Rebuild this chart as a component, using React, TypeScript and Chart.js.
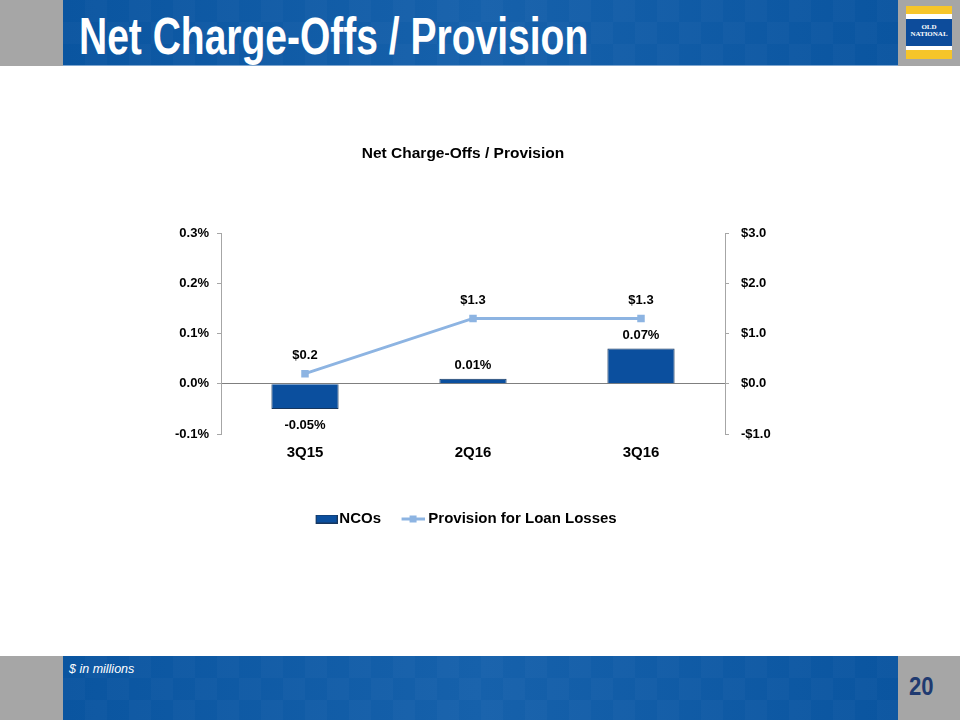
import React, { useEffect, useRef } from 'react';
import { Chart, registerables } from 'chart.js';

Chart.register(...registerables);

const categories = ['3Q15', '2Q16', '3Q16'];
const ncoValues = [-0.05, 0.01, 0.07];
const provisionValues = [0.2, 1.3, 1.3];
const seriesNames = ['NCOs', 'Provision for Loan Losses'];
const leftAxisRange = [-0.1, 0.3];
const rightAxisRange = [-1, 3];
const chartTitle = 'Net Charge-Offs / Provision';
const pageTitle = 'Net Charge-Offs / Provision';
const footnote = '$ in millions';
const pageNumber = '20';

const FONT = '"Liberation Sans", Arial, sans-serif';
const BAR_COLOR = '#0B4F9E';
const BAR_BORDER = '#17365D';
const LINE_COLOR = '#8DB4E2';

const fmtPct = (v: number) => v.toFixed(2) + '%';
const fmtMoney = (v: number) => (v < 0 ? '-$' : '$') + Math.abs(v).toFixed(1);

function makeBarIcon() {
  const c = document.createElement('canvas');
  c.width = 34;
  c.height = 9;
  const g = c.getContext('2d')!;
  g.fillStyle = BAR_COLOR;
  g.fillRect(12, 0, 22, 9);
  g.strokeStyle = BAR_BORDER;
  g.lineWidth = 1;
  g.strokeRect(12.5, 0.5, 21, 8);
  return c;
}

function makeLineIcon() {
  const c = document.createElement('canvas');
  c.width = 30;
  c.height = 9;
  const g = c.getContext('2d')!;
  g.strokeStyle = LINE_COLOR;
  g.lineWidth = 3;
  g.beginPath();
  g.moveTo(7, 4.5);
  g.lineTo(30, 4.5);
  g.stroke();
  g.fillStyle = LINE_COLOR;
  g.fillRect(15, 1, 7, 7);
  return c;
}

const dataLabelPlugin = {
  id: 'dataLabels',
  afterDatasetsDraw(chart: any) {
    const ctx = chart.ctx;
    ctx.save();
    ctx.font = `bold 13px ${FONT}`;
    ctx.fillStyle = '#000000';
    ctx.textAlign = 'center';
    ctx.textBaseline = 'middle';
    const barMeta = chart.getDatasetMeta(0);
    barMeta.data.forEach((el: any, i: number) => {
      const v = ncoValues[i];
      const y = v < 0 ? el.y + 17 : el.y - 13;
      ctx.fillText(fmtPct(v), el.x, y);
    });
    const lineMeta = chart.getDatasetMeta(1);
    lineMeta.data.forEach((el: any, i: number) => {
      ctx.fillText(fmtMoney(provisionValues[i]), el.x, el.y - 18);
    });
    ctx.restore();
  },
};

function ChartCanvas() {
  const ref = useRef<HTMLCanvasElement | null>(null);
  useEffect(() => {
    if (!ref.current) return;
    const barIcon = makeBarIcon();
    const lineIcon = makeLineIcon();
    const chart = new Chart(ref.current, {
      type: 'bar',
      data: {
        labels: categories,
        datasets: [
          {
            type: 'bar',
            label: seriesNames[0],
            data: ncoValues,
            backgroundColor: BAR_COLOR,
            borderColor: BAR_BORDER,
            borderWidth: 1,
            barPercentage: 0.4,
            categoryPercentage: 1,
            yAxisID: 'y',
            order: 2,
          } as any,
          {
            type: 'line',
            label: seriesNames[1],
            data: provisionValues,
            borderColor: LINE_COLOR,
            backgroundColor: LINE_COLOR,
            borderWidth: 3,
            pointStyle: 'rect',
            pointRadius: 5.3,
            pointBorderWidth: 0,
            pointBackgroundColor: LINE_COLOR,
            yAxisID: 'y1',
            order: 1,
          } as any,
        ],
      },
      options: {
        responsive: false,
        animation: false,
        layout: { padding: { left: 150, right: 184, top: 0, bottom: 118.5 } },
        plugins: {
          title: {
            display: true,
            text: chartTitle,
            color: '#000000',
            font: { family: FONT, size: 15.5, weight: 'bold', lineHeight: 1.2 },
            padding: { top: 79.2, bottom: 70.2 },
          },
          legend: {
            display: true,
            position: 'bottom',
            labels: {
              usePointStyle: true,
              pointStyleWidth: 22.5,
              padding: 17.3,
              color: '#000000',
              font: { family: FONT, size: 15, weight: 'bold' },
              generateLabels: () => [
                { text: seriesNames[0], pointStyle: barIcon, fillStyle: BAR_COLOR, strokeStyle: BAR_BORDER, lineWidth: 0, hidden: false, datasetIndex: 0 },
                { text: seriesNames[1], pointStyle: lineIcon, fillStyle: LINE_COLOR, strokeStyle: LINE_COLOR, lineWidth: 0, hidden: false, datasetIndex: 1 },
              ] as any,
            },
          },
          tooltip: { enabled: false },
        },
        scales: {
          x: {
            grid: { display: false, drawTicks: false },
            border: { display: false },
            ticks: {
              color: '#000000',
              padding: 10,
              font: { family: FONT, size: 15, weight: 'bold' },
            },
            afterFit: (s: any) => {
              s.height = 60.2;
            },
          },
          y: {
            position: 'left',
            min: leftAxisRange[0],
            max: leftAxisRange[1],
            grid: {
              drawOnChartArea: true,
              drawTicks: true,
              tickLength: 4,
              tickColor: '#A6A6A6',
              color: (c: any) => (c.tick && Math.abs(c.tick.value) < 1e-9 ? '#7F7F7F' : 'rgba(0,0,0,0)'),
              lineWidth: 1,
            },
            border: { display: true, color: '#A6A6A6', width: 1 },
            ticks: {
              stepSize: 0.1,
              padding: 8,
              color: '#000000',
              font: { family: FONT, size: 13, weight: 'bold' },
              callback: (v: any) => Number(v).toFixed(1) + '%',
            },
            afterFit: (s: any) => {
              s.width = 71;
            },
          },
          y1: {
            position: 'right',
            min: rightAxisRange[0],
            max: rightAxisRange[1],
            grid: { drawOnChartArea: false, drawTicks: true, tickLength: 4, tickColor: '#A6A6A6' },
            border: { display: true, color: '#A6A6A6', width: 1 },
            ticks: {
              stepSize: 1,
              padding: 12,
              color: '#000000',
              font: { family: FONT, size: 13, weight: 'bold' },
              callback: (v: any) => fmtMoney(Number(v)),
            },
            afterFit: (s: any) => {
              s.width = 51;
            },
          },
        },
      } as any,
      plugins: [dataLabelPlugin],
    });
    return () => chart.destroy();
  }, []);
  return (
    <canvas
      ref={ref}
      width={960}
      height={590}
      style={{ position: 'absolute', left: 0, top: 65, width: 960, height: 590, display: 'block' }}
    />
  );
}

const blueBand =
  'repeating-conic-gradient(rgba(255,255,255,0.02) 0 25%, rgba(0,0,0,0) 0 50%) 0 0 / 44px 44px, linear-gradient(90deg, #0A55A0 0%, #1661AB 50%, #0A55A0 100%)';

export default function App() {
  useEffect(() => {
    document.body.style.margin = '0';
  }, []);
  return (
    <div
      style={{
        position: 'absolute',
        left: 0,
        top: 0,
        width: 960,
        height: 720,
        overflow: 'hidden',
        background: '#FFFFFF',
        fontFamily: FONT,
      }}
    >
      {/* header */}
      <div style={{ position: 'absolute', left: 0, top: 0, width: 960, height: 66, background: '#A6A6A6' }} />
      <div style={{ position: 'absolute', left: 63, top: 0, width: 835, height: 65, background: blueBand }} />
      <div style={{ position: 'absolute', left: 63, top: 65, width: 835, height: 1, background: '#7FA6CF' }} />
      <div
        style={{
          position: 'absolute',
          left: 79,
          top: 10,
          fontSize: 52,
          lineHeight: '52px',
          fontWeight: 'bold',
          color: '#FFFFFF',
          whiteSpace: 'nowrap',
          transform: 'scaleX(0.75)',
          transformOrigin: 'left top',
        }}
      >
        {pageTitle}
      </div>
      {/* logo */}
      <div style={{ position: 'absolute', left: 906, top: 6, width: 46, height: 53, background: '#FFFFFF' }}>
        <div style={{ position: 'absolute', left: 0, top: 0, width: 46, height: 8, background: '#F6C52A' }} />
        <div style={{ position: 'absolute', left: 0, top: 13, width: 46, height: 27, background: '#0D4C9B' }} />
        <div style={{ position: 'absolute', left: 0, top: 44, width: 46, height: 9, background: '#F6C52A' }} />
        <div
          style={{
            position: 'absolute',
            left: 0,
            top: 18,
            width: 46,
            textAlign: 'center',
            color: '#FFFFFF',
            fontFamily: '"Liberation Serif", "DejaVu Serif", serif',
            fontSize: 7,
            lineHeight: '7px',
            fontWeight: 'bold',
          }}
        >
          OLD
          <br />
          NATIONAL
        </div>
      </div>

      <ChartCanvas />

      {/* footer */}
      <div style={{ position: 'absolute', left: 0, top: 656, width: 960, height: 64, background: '#A6A6A6' }} />
      <div style={{ position: 'absolute', left: 63, top: 656, width: 835, height: 64, background: blueBand }} />
      <div
        style={{
          position: 'absolute',
          left: 69,
          top: 662,
          fontSize: 12.5,
          lineHeight: '15px',
          fontStyle: 'italic',
          color: '#FFFFFF',
          whiteSpace: 'nowrap',
        }}
      >
        {footnote}
      </div>
      <div
        style={{
          position: 'absolute',
          left: 909,
          top: 671,
          fontSize: 26,
          lineHeight: '30px',
          fontWeight: 'bold',
          color: '#1F3A70',
          whiteSpace: 'nowrap',
          transform: 'scaleX(0.85)',
          transformOrigin: 'left top',
        }}
      >
        {pageNumber}
      </div>
    </div>
  );
}
